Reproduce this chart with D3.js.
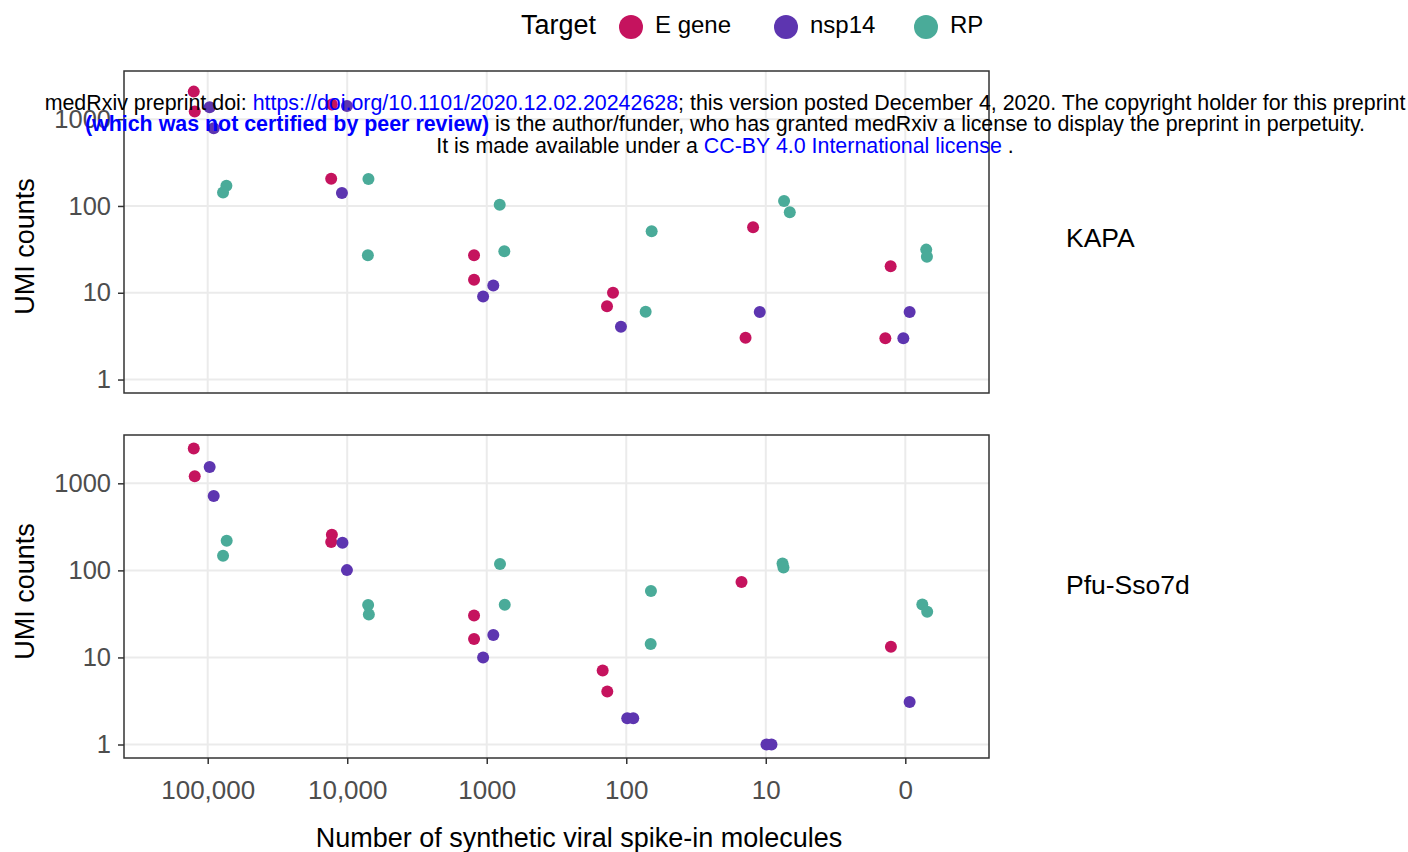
<script src='https://cdn.jsdelivr.net/npm/d3@7'></script>
<style>body{margin:0;background:#fff;} text{font-family:'Liberation Sans',Arial,sans-serif;}</style>
<svg id='chart' width='1408' height='852'></svg>
<script>
// categories and series
var doses=['100,000','10,000','1000','100','10','0'],
    targets=['E gene','nsp14','RP'],
    colors=['#C5135E','#5D35B0','#4AAB99'],
    panels=['KAPA','Pfu-Sso7d'],
    yTicks=[1,10,100,1000];
// [dose, target, UMI count, jitter (category units)]
var kapaData=[
 ['100,000','E gene',2077,-0.100],['100,000','E gene',1222,-0.093],
 ['100,000','nsp14',1374,0.014],['100,000','nsp14',788,0.043],
 ['100,000','RP',171,0.134],['100,000','RP',143,0.110],
 ['10,000','E gene',206,-0.115],['10,000','E gene',1480,-0.110],
 ['10,000','nsp14',1420,-0.002],['10,000','nsp14',141,-0.038],
 ['10,000','RP',204,0.152],['10,000','RP',27,0.148],
 ['1000','E gene',27,-0.091],['1000','E gene',14.1,-0.091],
 ['1000','nsp14',9.06,-0.026],['1000','nsp14',12.1,0.047],
 ['1000','RP',103.5,0.093],['1000','RP',30,0.126],
 ['100','E gene',10,-0.095],['100','E gene',7,-0.138],
 ['100','nsp14',4.07,-0.038],
 ['100','RP',51,0.182],['100','RP',6.06,0.139],
 ['10','E gene',57,-0.091],['10','E gene',3.04,-0.145],
 ['10','nsp14',6,-0.043],
 ['10','RP',114,0.131],['10','RP',84.5,0.172],
 ['0','E gene',20.2,-0.105],['0','E gene',3,-0.143],
 ['0','nsp14',6,0.031],['0','nsp14',3,-0.014],
 ['0','RP',31.4,0.150],['0','RP',26,0.155]];
var pfuData=[
 ['100,000','E gene',2506,-0.100],['100,000','E gene',1203,-0.093],
 ['100,000','nsp14',1542,0.014],['100,000','nsp14',716,0.043],
 ['100,000','RP',219,0.136],['100,000','RP',147,0.110],
 ['10,000','E gene',257,-0.110],['10,000','E gene',212,-0.115],
 ['10,000','nsp14',208,-0.034],['10,000','nsp14',100.7,-0.002],
 ['10,000','RP',40,0.150],['10,000','RP',31.2,0.155],
 ['1000','E gene',30.4,-0.091],['1000','E gene',16.3,-0.091],
 ['1000','nsp14',10,-0.026],['1000','nsp14',18.1,0.047],
 ['1000','RP',118.5,0.095],['1000','RP',40.4,0.129],
 ['100','E gene',7.1,-0.169],['100','E gene',4.06,-0.136],
 ['100','nsp14',2,0.007],['100','nsp14',2,0.050],
 ['100','RP',58,0.177],['100','RP',14.3,0.175],
 ['10','E gene',73.6,-0.174],
 ['10','nsp14',1,0.005],['10','nsp14',1,0.041],
 ['10','RP',120,0.120],['10','RP',108,0.127],
 ['0','E gene',13.3,-0.103],
 ['0','nsp14',3.07,0.031],
 ['0','RP',40.6,0.122],['0','RP',33.5,0.157]];
var panelData=[kapaData,pfuData];

var svg=d3.select('#chart'),
    left=124,right=989,
    boxes=[{top:71,bottom:393,label:237.5,title:246.5},{top:435,bottom:758,label:584,title:591.5}];
var x=d3.scalePoint().domain(doses).range([left,right]).padding(0.6),
    step=x.step(),
    color=d3.scaleOrdinal().domain(targets).range(colors);

boxes.forEach(function(b,i){
  var y=d3.scaleLog().domain([Math.pow(10,-0.155),Math.pow(10,3.555)]).range([b.bottom,b.top]);
  var g=svg.append('g');
  // grid
  g.selectAll('.hg').data(yTicks).enter().append('line')
   .attr('x1',left).attr('x2',right).attr('y1',y).attr('y2',y)
   .attr('stroke','#EBEBEB').attr('stroke-width',2);
  g.selectAll('.vg').data(doses).enter().append('line')
   .attr('y1',b.top).attr('y2',b.bottom).attr('x1',x).attr('x2',x)
   .attr('stroke','#EBEBEB').attr('stroke-width',2);
  // points
  g.selectAll('circle').data(panelData[i]).enter().append('circle')
   .attr('cx',function(d){return x(d[0])+d[3]*step;})
   .attr('cy',function(d){return y(d[2]);})
   .attr('r',6).attr('fill',function(d){return color(d[1]);});
  // frame
  g.append('rect').attr('x',left).attr('y',b.top).attr('width',right-left)
   .attr('height',b.bottom-b.top).attr('fill','none').attr('stroke','#333').attr('stroke-width',1.5);
  // y axis
  var ya=g.append('g').attr('transform','translate('+left+',0)')
   .call(d3.axisLeft(y).tickValues(yTicks).tickFormat(d3.format('d')).tickSize(6).tickPadding(7));
  ya.select('.domain').remove();
  ya.selectAll('line').attr('stroke','#333').attr('stroke-width',1.5);
  ya.selectAll('text').attr('fill','#4D4D4D').style('font-size','25.5px')
   .style('font-family',"'Liberation Sans',Arial,sans-serif");
  g.append('text').attr('transform','translate(34,'+b.title+') rotate(-90)')
   .attr('text-anchor','middle').style('font-size','27px').text('UMI counts');
  g.append('text').attr('x',1066).attr('y',b.label).attr('dy','0.36em')
   .style('font-size','26.5px').text(panels[i]);
});

// x axis
var xa=svg.append('g').attr('transform','translate(0,758)')
  .call(d3.axisBottom(x).tickSize(6).tickPadding(17));
xa.select('.domain').remove();
xa.selectAll('line').attr('stroke','#333').attr('stroke-width',1.5);
xa.selectAll('text').attr('fill','#4D4D4D').style('font-size','26px')
  .style('font-family',"'Liberation Sans',Arial,sans-serif");
svg.append('text').attr('x',579).attr('y',837).attr('dy','0.36em').attr('text-anchor','middle')
  .style('font-size','27px').text('Number of synthetic viral spike-in molecules');

// legend
svg.append('text').attr('x',521).attr('y',24).attr('dy','0.36em').style('font-size','27px').text('Target');
var legX=[631,786,926];
targets.forEach(function(t,i){
  svg.append('circle').attr('cx',legX[i]).attr('cy',27).attr('r',12).attr('fill',color(t));
  svg.append('text').attr('x',legX[i]+24).attr('y',24).attr('dy','0.36em').style('font-size','24px').text(t);
});

// preprint header
var hdr=svg.append('g').style('font-size','21.4px').attr('text-anchor','middle');
var l1=hdr.append('text').attr('x',725).attr('y',110);
l1.append('tspan').text('medRxiv preprint doi: ');
l1.append('tspan').attr('fill','#0000FF').text('https://doi.org/10.1101/2020.12.02.20242628');
l1.append('tspan').text('; this version posted December 4, 2020. The copyright holder for this preprint');
var l2=hdr.append('text').attr('x',725).attr('y',131);
l2.append('tspan').attr('fill','#0000FF').attr('font-weight','bold').text('(which was not certified by peer review)');
l2.append('tspan').text(' is the author/funder, who has granted medRxiv a license to display the preprint in perpetuity.');
var l3=hdr.append('text').attr('x',725).attr('y',153);
l3.append('tspan').text('It is made available under a ');
l3.append('tspan').attr('fill','#0000FF').text('CC-BY 4.0 International license');
l3.append('tspan').text(' .');
</script>
